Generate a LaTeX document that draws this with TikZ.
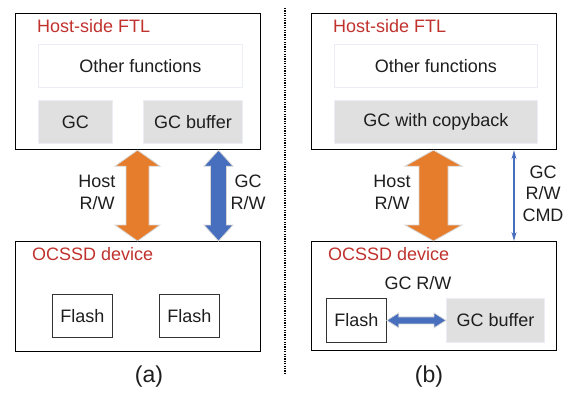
\documentclass[tikz,border=0pt]{standalone}
\usepackage{fontspec}
\setmainfont{Liberation Sans}
\usetikzlibrary{calc,arrows.meta}

\definecolor{ftlred}{RGB}{192,50,45}
\definecolor{arrorange}{RGB}{230,125,45}
\definecolor{arrblue}{RGB}{72,110,190}
\definecolor{boxgray}{RGB}{224,224,224}
\definecolor{faintedge}{RGB}{236,238,246}
\definecolor{arredge}{RGB}{215,215,215}
\definecolor{textdark}{RGB}{30,30,30}

% vertical double fat arrow between two points:
% #1 top, #2 bottom, #3 shaft half width, #4 head half width, #5 head length, #6 style
\newcommand\vfatarrow[6]{%
  \path[#6] let \p1=(#1), \p2=(#2) in
    (\x1,\y1) -- (\x1+#4,\y1-#5) -- (\x1+#3,\y1-#5) -- (\x1+#3,\y2+#5)
    -- (\x1+#4,\y2+#5) -- (\x1,\y2) -- (\x1-#4,\y2+#5) -- (\x1-#3,\y2+#5)
    -- (\x1-#3,\y1-#5) -- (\x1-#4,\y1-#5) -- cycle;}
% horizontal double fat arrow: #1 left, #2 right
\newcommand\hfatarrow[6]{%
  \path[#6] let \p1=(#1), \p2=(#2) in
    (\x1,\y1) -- (\x1+#5,\y1+#4) -- (\x1+#5,\y1+#3) -- (\x2-#5,\y1+#3)
    -- (\x2-#5,\y1+#4) -- (\x2,\y1) -- (\x2-#5,\y1-#4) -- (\x2-#5,\y1-#3)
    -- (\x1+#5,\y1-#3) -- (\x1+#5,\y1-#4) -- cycle;}

\tikzset{
  every node/.style={font=\fontsize{18}{21.5}\selectfont, inner sep=0pt, text=textdark},
  outerbox/.style={draw=black, line width=1.2pt, anchor=north west},
  plainbox/.style={draw=faintedge, line width=0.8pt, fill=white, anchor=north west},
  graybox/.style={draw=faintedge, line width=0.8pt, fill=boxgray, anchor=north west},
  flashbox/.style={draw=black!80, line width=0.8pt, fill=white, anchor=north west,
    minimum width=60pt, minimum height=43pt},
  title/.style={text=ftlred, anchor=west},
  caption/.style={font=\fontsize{23}{26}\selectfont},
  orangearrow/.style={fill=arrorange, draw=arredge, line width=0.8pt},
  bluearrow/.style={fill=arrblue, draw=arredge, line width=0.8pt},
}

\begin{document}
\begin{tikzpicture}[x=1pt,y=-1pt]
\useasboundingbox (0,0) rectangle (568,393);

% ---------- (a) ----------
\node[outerbox, minimum width=245pt, minimum height=136pt] (ftlA) at (15,13) {};
\node[title] (ftlAt) at (37,26) {Host-side FTL};
\node[plainbox, minimum width=204pt, minimum height=43pt] (otherA) at (38,44) {Other functions};
\node[graybox, minimum width=74pt, minimum height=43pt] (gcA) at (38,100) {GC};
\node[graybox, minimum width=99pt, minimum height=43pt] (gcbufA) at (143,100) {GC buffer};

\node[outerbox, minimum width=245pt, minimum height=110pt] (devA) at (15,241) {};
\node[title] (devAt) at (32,254) {OCSSD device};
\node[flashbox] (flashA1) at (52,294) {Flash};
\node[flashbox] (flashA2) at (159,294) {Flash};

\coordinate (hostAx) at (137.5,0);
\coordinate (gcAx) at (218.5,0);
\vfatarrow{ftlA.south -| hostAx}{devA.north -| hostAx}{11.5pt}{22.5pt}{16pt}{orangearrow}
\vfatarrow{ftlA.south -| gcAx}{devA.north -| gcAx}{8pt}{14.5pt}{16pt}{bluearrow}
\node[align=center] (hostAl) at (97,192.5) {Host\\R/W};
\node[align=center] (gcAl) at (248,192.5) {GC\\R/W};
\node[caption] (capA) at (149,377) {(a)};

% divider
\coordinate (divtop) at (285,8);
\coordinate (divbot) at (285,373);
\draw[line width=1.1pt, dash pattern=on 1.2pt off 1.2pt] (divtop) -- (divbot);

% ---------- (b) ----------
\node[outerbox, minimum width=245pt, minimum height=136pt] (ftlB) at (311,13) {};
\node[title] (ftlBt) at (333,26) {Host-side FTL};
\node[plainbox, minimum width=203pt, minimum height=43pt] (otherB) at (334,44) {Other functions};
\node[graybox, minimum width=203pt, minimum height=43pt] (gccb) at (334,100) {GC with copyback};

\node[outerbox, minimum width=245pt, minimum height=109pt] (devB) at (311,241) {};
\node[title] (devBt) at (328,254) {OCSSD device};
\node (gcrwB) at (418,283) {GC R/W};
\node[flashbox, minimum height=44pt] (flashB) at (326,298) {Flash};
\node[graybox, minimum width=98pt, minimum height=44pt] (gcbufB) at (446,298) {GC buffer};

\hfatarrow{flashB.east}{gcbufB.west}{3.5pt}{7.5pt}{12pt}{bluearrow}

\coordinate (hostBx) at (433.5,0);
\coordinate (cmdBx) at (514,0);
\vfatarrow{ftlB.south -| hostBx}{devB.north -| hostBx}{14.5pt}{28.5pt}{16pt}{orangearrow}
\draw[arrblue, line width=1.4pt, {Stealth[length=9pt,width=5pt]}-{Stealth[length=9pt,width=5pt]}]
  (ftlB.south -| cmdBx) -- (devB.north -| cmdBx);
\node[align=center] (hostBl) at (392,192.5) {Host\\R/W};
\node[align=center] (cmdBl) at (543,193.5) {GC\\R/W\\CMD};
\node[caption] (capB) at (429,377) {(b)};
\end{tikzpicture}
\end{document}
